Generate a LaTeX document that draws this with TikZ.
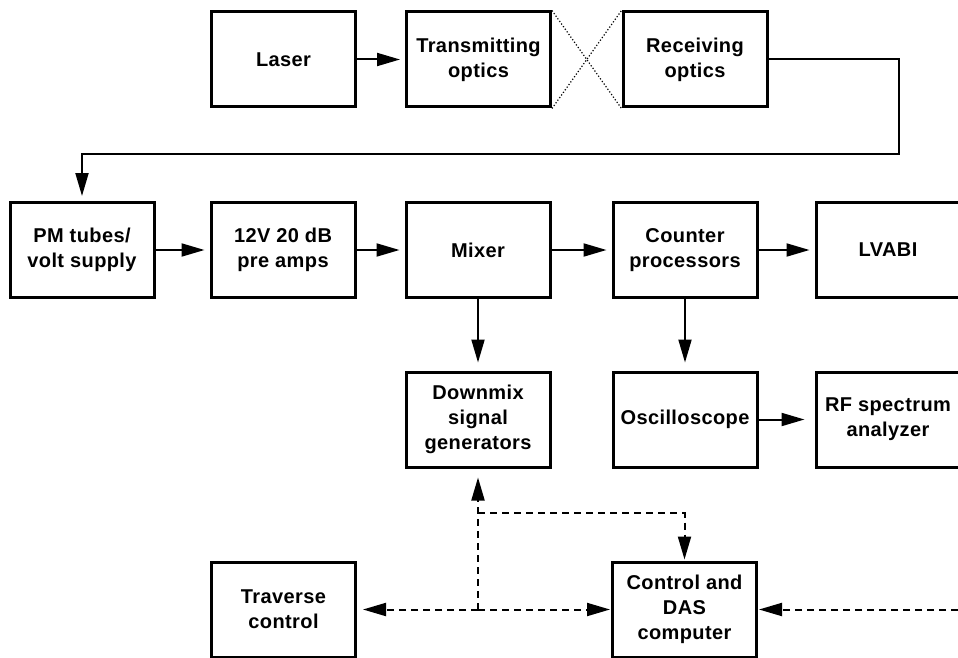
\documentclass[tikz,border=0pt]{standalone}
\usepackage{fontspec}
\setmainfont{Liberation Sans}[LetterSpace=2]
\usetikzlibrary{arrows.meta}
\begin{document}
\begin{tikzpicture}[x=1pt,y=-1pt,
    box/.style={draw,line width=3pt,minimum width=144pt,minimum height=95pt,align=center,
      font=\fontsize{20}{25}\selectfont\bfseries},
    conn/.style={line width=2pt,-{Triangle[length=23pt,width=13pt]},shorten >=5pt},
    dashconn/.style={conn,dash pattern=on 7pt off 5pt},
    xline/.style={line width=1.2pt,dotted}]
  \useasboundingbox (0,0) rectangle (958,658);
                \node[box] (laser) at (283.5,59.5) {Laser};
                \node[box] (txoptics) at (478.5,59.5) {Transmitting\\optics};
                \node[box] (rxoptics) at (695,59.5) {Receiving\\optics};
                \node[box] (pmtubes) at (82,250) {PM tubes/\\volt supply};
                \node[box] (preamps) at (283,250) {12V 20 dB\\pre amps};
                \node[box] (mixer) at (478,250) {Mixer};
                \node[box] (counter) at (685,250) {Counter\\processors};
                \node[box] (lvabi) at (888,250) {LVABI};
                \node[box] (downmix) at (478,419.5) {Downmix\\signal\\generators};
                \node[box] (scope) at (685,419.5) {Oscilloscope};
                \node[box] (rfspec) at (888,419.5) {RF spectrum\\analyzer};
                \node[box] (traverse) at (283.5,609.5) {Traverse\\control};
                \node[box] (das) at (684.5,609.5) {Control and\\DAS\\computer};
                \coordinate (fbR) at (899,154);
                \coordinate (fbL) at (82,154);
                \coordinate (jn) at (478,609.5);
                \coordinate (kn) at (478,513);
                \coordinate (edgeR) at (958,609.5);
                \draw[conn] (laser) -- (txoptics);
                \draw[xline] (txoptics.north east) -- (rxoptics.south west);
                \draw[xline] (txoptics.south east) -- (rxoptics.north west);
                \draw[conn] (rxoptics.east) -| (fbR) -- (fbL) -- (pmtubes.north);
                \draw[conn] (pmtubes) -- (preamps);
                \draw[conn] (preamps) -- (mixer);
                \draw[conn] (mixer) -- (counter);
                \draw[conn] (counter) -- (lvabi);
                \draw[conn,shorten >=8pt] (mixer) -- (downmix);
                \draw[conn,shorten >=8pt] (counter) -- (scope);
                \draw[conn,shorten >=10pt] (scope) -- (rfspec);
                \draw[dashconn,shorten >=9pt] (jn) -- (downmix.south);
                \draw[dashconn,shorten >=1pt] (kn) -| (das.north);
                \draw[dashconn,shorten >=6pt] (jn) -- (traverse.east);
                \draw[dashconn,shorten >=1pt] (jn) -- (das.west);
                \draw[dashconn,shorten >=1pt] (edgeR) -- (das.east);
            \end{tikzpicture}
\end{document}
